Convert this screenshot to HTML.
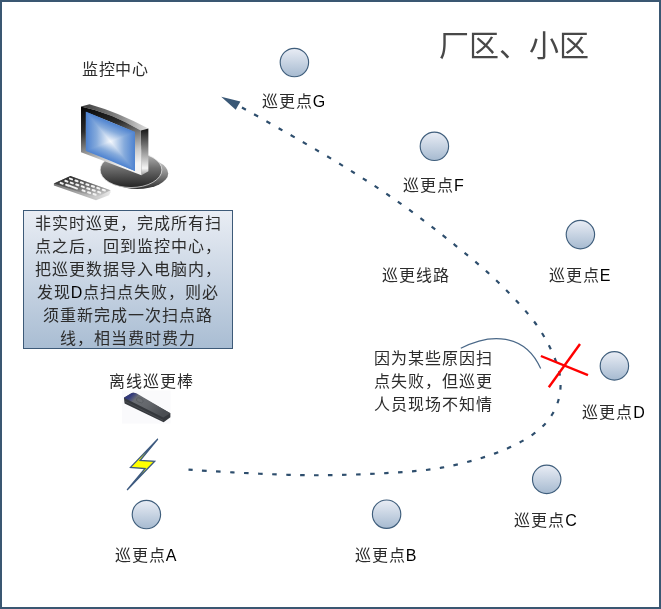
<!DOCTYPE html>
<html lang="zh-CN">
<head>
<meta charset="utf-8">
<style>
html,body{margin:0;padding:0;}
body{width:661px;height:609px;position:relative;overflow:hidden;background:#fff;font-family:"Liberation Sans",sans-serif;color:#000;}
.frame{position:absolute;left:0;top:0;width:661px;height:609px;box-sizing:border-box;border:2px solid #3a5772;}
svg.g{position:absolute;left:0;top:0;}
.t{will-change:transform;position:absolute;white-space:nowrap;text-align:center;font-size:16px;line-height:16px;color:#2c2c2c;letter-spacing:1px;}
.l{color:#000;}
.box{position:absolute;left:23px;top:210px;width:210px;height:139px;box-sizing:border-box;border:1px solid #3d5a78;background:linear-gradient(#e9edf4,#a9bdd3);}
.bt{will-change:transform;position:absolute;left:0;width:208px;text-align:center;font-size:16px;line-height:16px;white-space:nowrap;color:#2c2c2c;letter-spacing:1px;}
</style>
</head>
<body>
<div class="frame"></div>
<div class="box">
  <div class="bt" style="top:5px">非实时巡更，完成所有扫</div>
  <div class="bt" style="top:28px">点之后，回到监控中心，</div>
  <div class="bt" style="top:51px">把巡更数据导入电脑内，</div>
  <div class="bt" style="top:74px">发现<span class="l">D</span>点扫点失败，则必</div>
  <div class="bt" style="top:97px">须重新完成一次扫点路</div>
  <div class="bt" style="top:120px">线，相当费时费力</div>
</div>
<svg class="g" width="661" height="609" viewBox="0 0 661 609">
  <defs>
    <linearGradient id="cg" x1="0" y1="0" x2="0" y2="1">
      <stop offset="0" stop-color="#e9edf5"/>
      <stop offset="1" stop-color="#a6bad0"/>
    </linearGradient>
  </defs>
  <!-- computer -->
  <defs>
    <linearGradient id="b1" x1="0" y1="0" x2="0" y2="1"><stop offset="0" stop-color="#bdbdbd"/><stop offset="0.45" stop-color="#6e6e6e"/><stop offset="1" stop-color="#242424"/></linearGradient>
    <linearGradient id="b2" x1="0" y1="0" x2="0" y2="1"><stop offset="0" stop-color="#d5d5d5"/><stop offset="0.5" stop-color="#8a8a8a"/><stop offset="1" stop-color="#2e2e2e"/></linearGradient>
    <linearGradient id="bez" x1="0" y1="0" x2="0.25" y2="1"><stop offset="0" stop-color="#050505"/><stop offset="0.35" stop-color="#2a2a2a"/><stop offset="0.8" stop-color="#c8c8c8"/><stop offset="1" stop-color="#f4f4f4"/></linearGradient>
    <linearGradient id="top" x1="0" y1="0" x2="1" y2="0"><stop offset="0" stop-color="#3a3a3a"/><stop offset="0.6" stop-color="#8c8c8c"/><stop offset="1" stop-color="#e0e0e0"/></linearGradient>
    <linearGradient id="side" x1="0" y1="0" x2="0" y2="1"><stop offset="0" stop-color="#151515"/><stop offset="0.45" stop-color="#8a8a8a"/><stop offset="0.85" stop-color="#f5f5f5"/><stop offset="1" stop-color="#9a9a9a"/></linearGradient>
    <linearGradient id="sh" x1="0" y1="0" x2="1" y2="0" gradientUnits="userSpaceOnUse"><stop offset="0" stop-color="#4d82d0"/><stop offset="0.22" stop-color="#86abdc"/><stop offset="0.5" stop-color="#f6f9fd"/><stop offset="0.78" stop-color="#86abdc"/><stop offset="1" stop-color="#4d82d0"/></linearGradient>
    <linearGradient id="sv" x1="0" y1="0" x2="0" y2="1" gradientUnits="userSpaceOnUse"><stop offset="0" stop-color="#4d82d0"/><stop offset="0.22" stop-color="#86abdc"/><stop offset="0.5" stop-color="#f6f9fd"/><stop offset="0.78" stop-color="#86abdc"/><stop offset="1" stop-color="#4d82d0"/></linearGradient>
    <linearGradient id="kb" x1="0.2" y1="0" x2="0.8" y2="1"><stop offset="0" stop-color="#202020"/><stop offset="0.5" stop-color="#707070"/><stop offset="1" stop-color="#d8d8d8"/></linearGradient>
    <linearGradient id="kbe" x1="0" y1="0" x2="1" y2="0"><stop offset="0" stop-color="#777"/><stop offset="1" stop-color="#e8e8e8"/></linearGradient>
  </defs>
  <ellipse cx="137.3" cy="173.4" rx="30.9" ry="15.6" fill="url(#b2)"/>
  <ellipse cx="131" cy="169.9" rx="30.85" ry="17.65" fill="url(#b1)" stroke="#f0f0f0" stroke-width="0.7"/>
  <path d="M81,106.5 L89.5,104.2 Q118.9,112.4 148.4,128.6 L140.8,130.6 Q110.9,112.65 81,106.5 Z" fill="url(#top)"/>
  <polygon points="140.8,130.6 148.4,128.6 148.4,171.3 141.5,175.2" fill="url(#side)"/>
  <path d="M81,106.5 Q110.9,112.65 140.8,130.6 L141.5,175.2 L81,152.2 Z" fill="url(#bez)"/>
  <g transform="matrix(49.1 20.3 0 39 85.9 111.7)" style="isolation:isolate">
    <rect x="0" y="0" width="1" height="1" fill="url(#sh)"/>
    <rect x="0" y="0" width="1" height="1" fill="url(#sv)" style="mix-blend-mode:darken"/>
  </g>
  <polygon points="53.9,183.6 70.4,175.9 110.5,190.2 110.5,192.2 109,195.3 96,200.2 53.9,185.6" fill="url(#kbe)"/>
  <polygon points="53.9,183.6 70.4,175.9 110.5,190.2 96,197.8" fill="url(#kb)"/>
  <g fill="#f2f2f2">
    <rect x="59.6" y="182.3" width="4.2" height="2" rx="0.9" transform="rotate(20 61.7 183.3)"/>
    <rect x="65.1" y="184.2" width="4.2" height="2" rx="0.9" transform="rotate(20 67.2 185.2)"/>
    <rect x="81.5" y="189.7" width="4.2" height="2" rx="0.9" transform="rotate(20 83.6 190.7)"/>
    <rect x="87.0" y="191.6" width="4.2" height="2" rx="0.9" transform="rotate(20 89.1 192.6)"/>
    <rect x="92.5" y="193.4" width="4.2" height="2" rx="0.9" transform="rotate(20 94.6 194.4)"/>
    <rect x="64.3" y="180.2" width="4.2" height="2" rx="0.9" transform="rotate(20 66.4 181.2)"/>
    <rect x="69.7" y="182.0" width="4.2" height="2" rx="0.9" transform="rotate(20 71.8 183.0)"/>
    <rect x="75.2" y="183.9" width="4.2" height="2" rx="0.9" transform="rotate(20 77.3 184.9)"/>
    <rect x="80.7" y="185.7" width="4.2" height="2" rx="0.9" transform="rotate(20 82.8 186.7)"/>
    <rect x="86.2" y="187.6" width="4.2" height="2" rx="0.9" transform="rotate(20 88.3 188.6)"/>
    <rect x="91.6" y="189.4" width="4.2" height="2" rx="0.9" transform="rotate(20 93.7 190.4)"/>
    <rect x="97.1" y="191.2" width="4.2" height="2" rx="0.9" transform="rotate(20 99.2 192.2)"/>
    <rect x="68.9" y="178.0" width="4.2" height="2" rx="0.9" transform="rotate(20 71.0 179.0)"/>
    <rect x="74.4" y="179.9" width="4.2" height="2" rx="0.9" transform="rotate(20 76.5 180.9)"/>
    <rect x="79.8" y="181.7" width="4.2" height="2" rx="0.9" transform="rotate(20 81.9 182.7)"/>
    <rect x="85.3" y="183.6" width="4.2" height="2" rx="0.9" transform="rotate(20 87.4 184.6)"/>
    <rect x="90.8" y="185.4" width="4.2" height="2" rx="0.9" transform="rotate(20 92.9 186.4)"/>
    <rect x="96.2" y="187.2" width="4.2" height="2" rx="0.9" transform="rotate(20 98.3 188.2)"/>
    <rect x="101.7" y="189.1" width="4.2" height="2" rx="0.9" transform="rotate(20 103.8 190.1)"/>
    <rect x="67.2" y="186.0" width="11" height="2" rx="0.9" transform="rotate(20 72.7 187.0)"/>
  </g>
  <!-- wand -->
  <defs>
    <linearGradient id="wd" x1="0" y1="0" x2="1" y2="0.5"><stop offset="0" stop-color="#2b3378"/><stop offset="0.17" stop-color="#343b7c"/><stop offset="0.3" stop-color="#6a6d73"/><stop offset="0.6" stop-color="#64676c"/><stop offset="1" stop-color="#4a4d52"/></linearGradient>
  </defs>
  <rect x="122" y="390.5" width="48.5" height="33" fill="#fafafc"/>
  <polygon points="123.9,397.7 133,392.6 170.4,413.2 170.4,417.2 163.6,422.2 124.6,403.6" fill="#35383d"/>
  <path d="M123.9,397.7 L131.2,393.3 Q134,392 136.8,393.5 L170.4,413.2 L163.3,417.4 Z" fill="url(#wd)"/>
  <path d="M124.3,401 L163.4,420.5" stroke="#55585d" stroke-width="0.6"/>
  <ellipse cx="139.8" cy="400.3" rx="3.6" ry="2.1" transform="rotate(25 139.8 400.3)" fill="#6c6f74" stroke="#4f5257" stroke-width="0.5"/>
  <!-- patrol points -->
  <g fill="url(#cg)" stroke="#3f5e7c" stroke-width="1.15">
    <circle cx="294.4" cy="62.5" r="14.2"/>
    <circle cx="434.4" cy="146.3" r="14.2"/>
    <circle cx="580.4" cy="234.6" r="14.2"/>
    <circle cx="614.4" cy="365.9" r="14.2"/>
    <circle cx="546.7" cy="479.4" r="14.2"/>
    <circle cx="386.6" cy="514.2" r="14.2"/>
    <circle cx="146.4" cy="514.5" r="14.2"/>
  </g>
  <!-- route -->
  <path d="M 188.0 469.2 C 195.4 469.6 215.5 471.0 232.2 471.9 C 248.9 472.8 271.9 473.9 288.1 474.3 C 304.4 474.8 313.4 474.9 329.7 474.6 C 345.9 474.3 367.0 473.8 385.6 472.6 C 404.2 471.4 422.9 470.5 441.1 467.2 C 459.3 463.9 479.5 458.4 494.7 452.9 C 509.9 447.3 522.9 440.6 532.5 433.9 C 542.1 427.2 547.8 420.5 552.4 412.7 C 557.0 404.9 559.6 395.8 560.0 386.9 C 560.4 378.0 559.1 370.1 554.9 359.4 C 550.7 348.7 544.2 335.4 534.7 322.5 C 525.2 309.6 511.0 294.6 497.7 281.7 C 484.4 268.8 471.2 258.0 454.8 244.8 C 438.4 231.6 418.5 216.1 399.4 202.6 C 380.3 189.1 360.3 176.4 340.4 164.1 C 320.5 151.8 296.5 138.3 279.9 128.7 C 263.2 119.1 247.1 110.2 240.5 106.5" fill="none" stroke="#2e4e6d" stroke-width="2.2" stroke-dasharray="4.5 9.5" stroke-dashoffset="0.25" transform="translate(0.5 0.5)"/>
  <polygon points="221.2,96.8 240.4,101.6 235.7,109.8" fill="#3a5876"/>
  <!-- callout curve -->
  <path d="M 460.8 348.3 C 490 333 525 333 540.7 368.6" fill="none" stroke="#4a6888" stroke-width="1.2"/>
  <!-- red X -->
  <g stroke="#ff0000" stroke-width="2.4" stroke-linecap="butt">
    <line x1="540.9" y1="356" x2="588" y2="375.2"/>
    <line x1="580" y1="344" x2="548.8" y2="387.2"/>
  </g>
  <!-- lightning -->
  <polygon points="157.8,439 130.5,467.4 145.1,468.5 127.1,490 154.7,461.3 140.1,460.5" fill="#ffff00" stroke="#3d5a80" stroke-width="1.3" stroke-linejoin="miter"/>
</svg>
<div class="t" style="left:234px;top:94px;width:120px">巡更点<span class="l">G</span></div>
<div class="t" style="left:374px;top:178px;width:120px">巡更点<span class="l">F</span></div>
<div class="t" style="left:520px;top:268px;width:120px">巡更点<span class="l">E</span></div>
<div class="t" style="left:554px;top:405px;width:120px">巡更点<span class="l">D</span></div>
<div class="t" style="left:486px;top:513px;width:120px">巡更点<span class="l">C</span></div>
<div class="t" style="left:326px;top:548px;width:120px">巡更点<span class="l">B</span></div>
<div class="t" style="left:86px;top:548px;width:120px">巡更点<span class="l">A</span></div>
<div class="t" style="left:55px;top:62px;width:120px;letter-spacing:0.5px">监控中心</div>
<div class="t" style="left:356px;top:268px;width:120px">巡更线路</div>
<div class="t" style="left:91px;top:374px;width:120px">离线巡更棒</div>
<div class="t" style="left:414px;top:31px;width:200px;font-size:30px;line-height:30px;letter-spacing:0;color:#484848">厂区、小区</div>
<div class="t" style="left:374px;top:347px;width:120px;text-align:left;line-height:23px">因为某些原因扫<br>点失败，但巡更<br>人员现场不知情</div>
<script>
(function(){
  var p=document.createElement('span');
  p.style.cssText='position:absolute;left:-2000px;top:0;font-size:100px;letter-spacing:0;white-space:nowrap;font-family:"Liberation Sans",sans-serif';
  p.textContent='\u5de1\u66f4\u70b9\u533a';
  document.body.appendChild(p);
  var w=p.getBoundingClientRect().width/4;
  document.body.removeChild(p);
  if(w>0 && w<90){
    var els=document.querySelectorAll('.t,.bt');
    for(var i=0;i<els.length;i++){
      var e=els[i], cs=getComputedStyle(e);
      var fs=parseFloat(cs.fontSize), ls=parseFloat(cs.letterSpacing)||0;
      var lh=cs.lineHeight;
      var k=1.25, adv=fs+ls;
      e.style.lineHeight=lh;
      e.style.fontSize=(fs*k)+'px';
      e.style.letterSpacing=(adv-(w/100)*fs*k)+'px';
      e.style.marginTop=(-0.12*fs)+'px';
      e.style.color='#1a1a1a';
      var ls2=e.querySelectorAll('.l');
      for(var j=0;j<ls2.length;j++){ls2[j].style.fontSize=fs+'px';ls2[j].style.letterSpacing=ls+'px';}
    }
  }
})();
</script>
</body>
</html>
